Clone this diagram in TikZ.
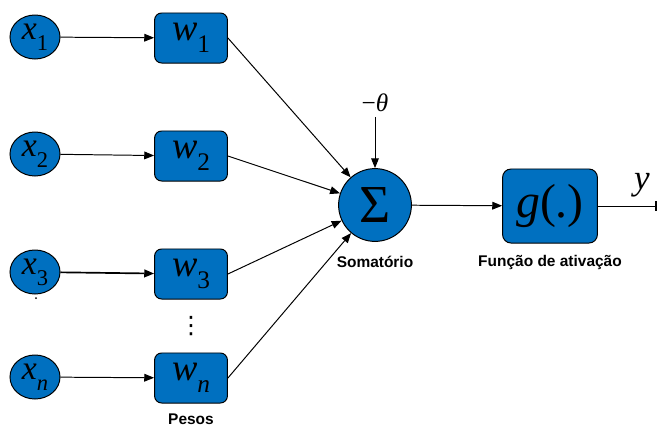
\documentclass[tikz,border=0pt]{standalone}
\usepackage{fontspec}
\setmainfont{Liberation Serif}
\newfontfamily\rotulofont{Liberation Sans}
\newfontfamily\simbolofont{DejaVu Sans}
\usetikzlibrary{arrows.meta,shapes,positioning}

\definecolor{azulneuronio}{RGB}{0,112,192}
% variavel em italico com indice rebaixado
\newcommand{\varsub}[3][16]{\textit{#2}\raisebox{-0.32em}{\fontsize{#1}{#1}\selectfont #3}}

\begin{document}
\begin{tikzpicture}[x=0.025cm,y=-0.025cm,
    entrada/.style={draw,ellipse,fill=azulneuronio,line width=0.7pt,
        minimum width=1.25cm,minimum height=1.1cm,inner sep=0pt,
        font=\fontsize{24}{24}\selectfont},
    peso/.style={draw,rectangle,rounded corners=5pt,fill=azulneuronio,line width=0.7pt,
        minimum width=1.82cm,minimum height=1.25cm,inner sep=0pt,
        font=\fontsize{27}{27}\selectfont},
    soma/.style={draw,circle,fill=azulneuronio,line width=0.7pt,
        minimum size=1.82cm,inner sep=0pt},
    funcao/.style={draw,rectangle,rounded corners=6pt,fill=azulneuronio,line width=0.7pt,
        minimum width=2.37cm,minimum height=1.85cm,inner sep=0pt},
    rotulo/.style={font=\rotulofont\bfseries\fontsize{11}{11}\selectfont},
    seta/.style={-{Triangle[length=7pt,width=5.5pt]},line width=0.7pt}]
    \useasboundingbox (0,0) rectangle (658,428);

    % entradas
    \node[entrada] (x1) at (35,37) {\varsub{x}{1}};
    \node[entrada] (x2) at (35,154) {\varsub{x}{2}};
    \node[entrada] (x3) at (35,272) {\varsub{x}{3}};
    \node[entrada] (xn) at (35,377) {\varsub{x}{\textit{n}}};
    \fill (36,298) circle (1);

    % pesos
    \node[peso] (w1) at (191,38) {\varsub[18]{w}{1}};
    \node[peso] (w2) at (191,156) {\varsub[18]{w}{2}};
    \node[peso] (w3) at (191,274) {\varsub[18]{w}{3}};
    \node[peso] (wn) at (191,378) {\varsub[18]{w}{\textit{n}}};
    \node (pontos) at (191,326) {\simbolofont\fontsize{17}{17}\selectfont ⋮};
    \node[rotulo] (lpesos) at (191,419) {Pesos};

    % somatorio e ativacao
    \node[soma] (soma) at (375,205) {\fontsize{38}{38}\selectfont Σ};
    \node (theta) at (375,103) {\fontsize{18}{18}\selectfont −\textit{θ}};
    \node[rotulo] (lsoma) at (375,262) {Somatório};
    \node[funcao] (g) at (550,206) {\fontsize{34}{34}\selectfont\textit{g}(.)};
    \node[rotulo] (lg) at (550,262) {Função de ativação};
    \coordinate (saida) at (657,206);
    \node (y) at (642,185) {\fontsize{25}{25}\selectfont\textit{y}};

    \draw[seta] (x1) -- (w1);
    \draw[seta] (x2) -- (w2);
    \draw[seta,line width=1.2pt] (x3) -- (w3);
    \draw[seta] (xn) -- (wn);
    \draw[seta] (w1.east) -- (soma);
    \draw[seta] (w2.east) -- (soma);
    \draw[seta] (w3.east) -- (soma);
    \draw[seta] (wn.east) -- (soma);
    \draw[seta] (theta) -- (soma);
    \draw[seta] (soma) -- (g);
    \draw[-{Bar[width=7pt,line width=1.6pt]},line width=0.7pt] (g) -- (saida);
\end{tikzpicture}
\end{document}
